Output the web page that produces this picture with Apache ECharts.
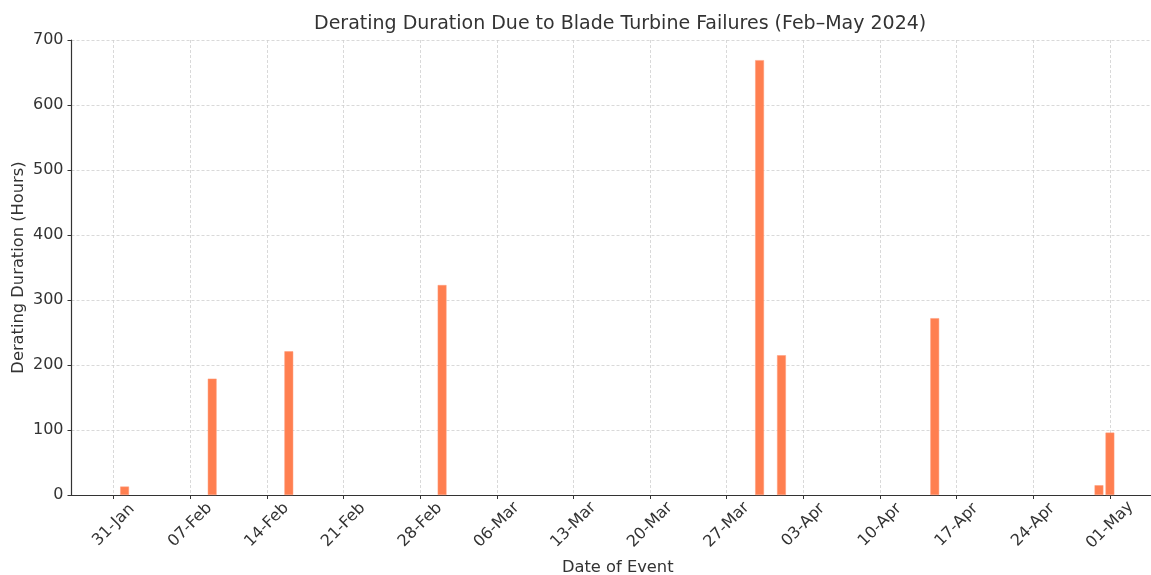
<!DOCTYPE html>
<html><head><meta charset="utf-8">
<script src="https://cdn.jsdelivr.net/npm/echarts@6/dist/echarts.min.js"></script>
<style>html,body{margin:0;padding:0;background:#fff}#c{width:1151px;height:575px}</style>
</head><body><div id="c"></div>
<script>
// ---- data ----
const eventDates = ['2024-02-01','2024-02-09','2024-02-16','2024-03-01','2024-03-30','2024-04-01','2024-04-15','2024-04-30','2024-05-01'];
const durationHours = [13, 179, 221, 323, 669, 215, 272, 15, 96];
const tickDates = ['2024-01-31','2024-02-07','2024-02-14','2024-02-21','2024-02-28','2024-03-06','2024-03-13','2024-03-20','2024-03-27','2024-04-03','2024-04-10','2024-04-17','2024-04-24','2024-05-01'];
const yTicks = [0, 100, 200, 300, 400, 500, 600, 700];
const monthNames = ['Jan','Feb','Mar','Apr','May','Jun','Jul','Aug','Sep','Oct','Nov','Dec'];

const DAY = 86400000;
const ts = s => Date.parse(s + 'T00:00:00Z');
const fmt = v => { const d = new Date(v); return String(d.getUTCDate()).padStart(2,'0') + '-' + monthNames[d.getUTCMonth()]; };
const FONT = 'DejaVu Sans';
const TXT = '#333333';

const chart = echarts.init(document.getElementById('c'), null, {renderer: 'canvas'});
chart.setOption({
  animation: false,
  backgroundColor: '#ffffff',
  title: {
    text: 'Derating Duration Due to Blade Turbine Failures (Feb\u2013May 2024)',
    left: 309, top: 10,
    textStyle: {fontFamily: FONT, fontSize: 19, fontWeight: 'normal', color: TXT}
  },
  grid: {left: 71.5, right: -13, top: 40, bottom: 80, containLabel: false, outerBoundsMode: 'none'},
  xAxis: {
    type: 'value',
    min: ts(tickDates[0]) - 3.85 * DAY,
    max: ts(tickDates[tickDates.length - 1]) + 4.94 * DAY,
    name: 'Date of Event',
    nameLocation: 'middle',
    nameGap: 65,
    nameMoveOverlap: false,
    nameTextStyle: {fontFamily: FONT, fontSize: 16.3, color: TXT},
    axisLine: {show: true, onZero: false, lineStyle: {color: '#333', width: 1.2}},
    axisTick: {show: true, length: 4, lineStyle: {color: '#333', width: 1}, customValues: tickDates.map(ts)},
    axisLabel: {
      customValues: tickDates.map(ts),
      formatter: fmt,
      rotate: 45, align: 'center', verticalAlign: 'middle', margin: 30,
      fontFamily: FONT, fontSize: 16, color: TXT, hideOverlap: false
    },
    splitLine: {show: true, lineStyle: {color: '#cfcfcf', width: 0.8, type: [3, 2]}}
  },
  yAxis: {
    type: 'value',
    min: yTicks[0], max: yTicks[yTicks.length - 1], interval: 100,
    name: 'Derating Duration (Hours)',
    nameLocation: 'middle',
    nameGap: 45,
    nameMoveOverlap: false,
    nameTextStyle: {fontFamily: FONT, fontSize: 16.3, color: TXT},
    axisLine: {show: true, lineStyle: {color: '#333', width: 1.2}},
    axisTick: {show: true, length: 4, lineStyle: {color: '#333', width: 1}},
    axisLabel: {margin: 8, fontFamily: FONT, fontSize: 16, color: TXT},
    splitLine: {show: true, lineStyle: {color: '#cfcfcf', width: 0.8, type: [3, 2]}}
  },
  series: [{
    type: 'bar',
    data: eventDates.map((d, i) => [ts(d), durationHours[i]]),
    barWidth: 8.8,
    itemStyle: {color: '#ff7f50', borderColor: '#ff9a78', borderWidth: 0.5},
    z: 3
  }]
});
</script>
</body></html>
